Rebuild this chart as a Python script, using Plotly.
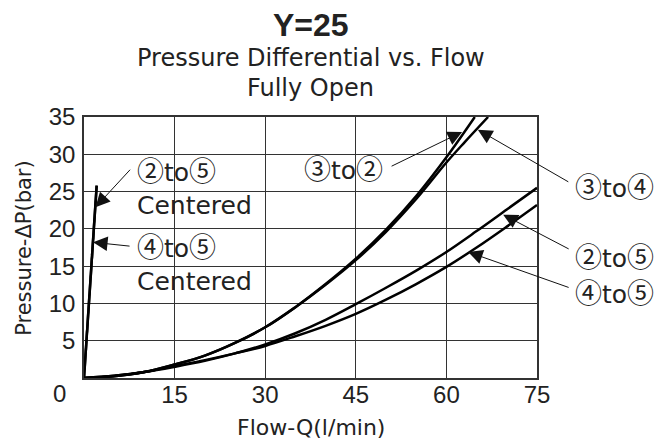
import plotly.graph_objects as go

# ---- data ----
flow_32 = [0, 5, 10, 15, 20, 25, 30, 35, 40, 45, 50, 55, 60, 64.7]
dp_32 = [0, 0.25, 0.8, 1.8, 3.0, 4.7, 6.8, 9.5, 12.6, 16.0, 19.9, 24.4, 29.6, 35.0]

flow_34 = [0, 5, 10, 15, 20, 25, 30, 35, 40, 45, 50, 55, 60, 63, 66.9]
dp_34 = [0, 0.25, 0.8, 1.8, 3.0, 4.7, 6.8, 9.5, 12.5, 15.8, 19.6, 24.0, 28.9, 31.6, 35.0]

flow_25 = [0, 5, 10, 15, 20, 25, 30, 35, 40, 45, 50, 55, 60, 65, 70, 75]
dp_25 = [0, 0.3, 0.8, 1.5, 2.3, 3.3, 4.5, 6.0, 7.8, 9.9, 12.1, 14.4, 16.9, 19.7, 22.6, 25.5]

flow_45 = [0, 5, 10, 15, 20, 25, 30, 35, 40, 45, 50, 55, 60, 65, 70, 75]
dp_45 = [0, 0.3, 0.8, 1.6, 2.4, 3.3, 4.3, 5.6, 7.0, 8.6, 10.5, 12.6, 14.9, 17.5, 20.3, 23.2]

flow_25c = [0, 2.1]
dp_25c = [0, 25.8]
flow_45c = [0, 2.1]
dp_45c = [0, 25.8]

x_ticks = [15, 30, 45, 60, 75]
y_ticks = [5, 10, 15, 20, 25, 30, 35]

# label text, arrow head (data), tail offset (px)
arrow_labels = [
    ("②to⑤ Centered", 1.9, 22.9, 36, -39),
    ("④to⑤ Centered", 1.5, 18.2, 38, 4),
    ("③to②", 62.6, 33.0, -72, 35),
    ("③to④", 65.2, 33.3, 92, 53),
    ("②to⑤", 69.4, 21.9, 67, 35),
    ("④to⑤", 63.6, 16.9, 102, 36),
]

TXT = "DejaVu Sans"
NUM = "Liberation Sans"
CJK = "Noto Sans CJK JP"
INK = "#222"


def fmt(s):
    out = ""
    for ch in s:
        if "\u2460" <= ch <= "\u2473":
            out += f"<span style=\"font-family:'{CJK}';font-size:27px\">{ch}</span>"
        else:
            out += ch
    return out


fig = go.Figure()
line = dict(color="black", width=2.5, shape="spline", smoothing=1.0)
for name, xs, ys in [("③to②", flow_32, dp_32), ("③to④", flow_34, dp_34),
                     ("②to⑤", flow_25, dp_25), ("④to⑤", flow_45, dp_45),
                     ("②to⑤ Centered", flow_25c, dp_25c), ("④to⑤ Centered", flow_45c, dp_45c)]:
    fig.add_trace(go.Scatter(x=xs, y=ys, mode="lines", name=name, line=line,
                             showlegend=False, cliponaxis=False))

ann = []
# titles
ann.append(dict(text="<b>Y=25</b>", xref="paper", yref="paper", x=0.5, y=1.352,
                showarrow=False, font=dict(family=NUM, size=32, color=INK),
                xanchor="center", yanchor="middle"))
ann.append(dict(text="Pressure Differential vs. Flow", xref="paper", yref="paper", x=0.5, y=1.226,
                showarrow=False, font=dict(family=TXT, size=24, color=INK),
                xanchor="center", yanchor="middle"))
ann.append(dict(text="Fully Open", xref="paper", yref="paper", x=0.5, y=1.112,
                showarrow=False, font=dict(family=TXT, size=24, color=INK),
                xanchor="center", yanchor="middle"))
# axis titles and corner zero
ann.append(dict(text="Flow-Q(l/min)", xref="paper", yref="paper", x=0.5, y=-0.19,
                showarrow=False, font=dict(family=TXT, size=22, color=INK),
                xanchor="center", yanchor="middle"))
ann.append(dict(text="Pressure-ΔP(bar)", xref="paper", yref="paper", x=-0.134, y=0.5,
                showarrow=False, textangle=-90, font=dict(family=TXT, size=21, color=INK),
                xanchor="center", yanchor="middle"))
ann.append(dict(text="0", xref="paper", yref="paper", x=-0.053, y=-0.058,
                showarrow=False, font=dict(family=NUM, size=24, color=INK),
                xanchor="center", yanchor="middle"))

# arrows
for label, hx, hy, ox, oy in arrow_labels:
    ann.append(dict(text="", x=hx, y=hy, xref="x", yref="y", ax=ox, ay=oy,
                    showarrow=True, arrowhead=2, arrowsize=2.9, arrowwidth=1,
                    arrowcolor="#111", standoff=0))

lab_font = dict(family=TXT, size=25, color=INK)
# labels near the steep line
ann.append(dict(text=fmt("②to⑤") + "<br>Centered", x=8.4, y=25.9, xref="x", yref="y",
                showarrow=False, xanchor="left", yanchor="middle", align="left", font=lab_font))
ann.append(dict(text=fmt("④to⑤") + "<br>Centered", x=8.4, y=15.7, xref="x", yref="y",
                showarrow=False, xanchor="left", yanchor="middle", align="left", font=lab_font))
ann.append(dict(text=fmt("③to②"), x=42.9, y=28.2, xref="x", yref="y", showarrow=False,
                xanchor="center", yanchor="middle", font=lab_font))
# labels at the right
for txt, py in [("③to④", 0.736), ("②to⑤", 0.471), ("④to⑤", 0.330)]:
    ann.append(dict(text=fmt(txt), x=1.08, y=py, xref="paper", yref="paper", showarrow=False,
                    xanchor="left", yanchor="middle", font=lab_font))

# the page body has an 8px offset; size the figure so the plot area lands where it should
fig.update_layout(
    width=654, height=435,
    margin=dict(l=76, r=125, t=109, b=65),
    paper_bgcolor="white", plot_bgcolor="white",
    annotations=ann,
    showlegend=False,
)
fig.update_xaxes(range=[0, 75], tickvals=x_ticks, showgrid=True, gridcolor="#333", gridwidth=1.2,
                 showline=True, linecolor="#333", linewidth=1.6, mirror=True, zeroline=False,
                 ticks="", ticklabelstandoff=-6,
                 tickfont=dict(family=NUM, size=24, color=INK))
fig.update_yaxes(range=[0, 35], tickvals=y_ticks, showgrid=True, gridcolor="#333", gridwidth=1.2,
                 showline=True, linecolor="#333", linewidth=1.6, mirror=True, zeroline=False,
                 ticks="", ticklabelstandoff=2,
                 tickfont=dict(family=NUM, size=24, color=INK))

fig.write_html("out.html")
